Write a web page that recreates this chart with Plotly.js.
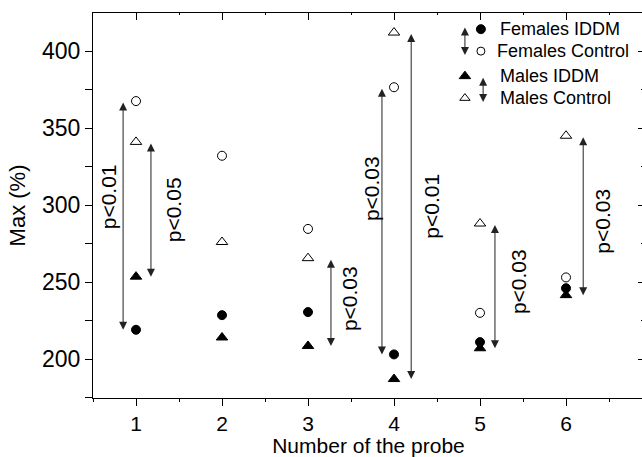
<!DOCTYPE html>
<html>
<head>
<meta charset="utf-8">
<script src="https://cdn.plot.ly/plotly-3.0.1.min.js"></script>
<style>
html, body { margin:0; padding:0; overflow:hidden; background:#fff; }
#chart { width:660px; height:457px; }
</style>
</head>
<body>
<div id="chart"></div>
<script>
// ---- data ----
const probes = [1, 2, 3, 4, 5, 6];
const femalesIDDM    = [219, 228.5, 230.5, 203, 211, 246];
const femalesControl = [367.5, 332, 284.5, 376.5, 230, 253];
const malesIDDM      = [253.5, 214, 208.5, 187, 207, 241.5];
const malesControl   = [341, 276, 265.5, 412, 288, 345];
const xTickLabels = ['1', '2', '3', '4', '5', '6'];
const yTickValues = [200, 250, 300, 350, 400];

// significance comparisons: probe, group, label
const compProbe = [1, 1, 3, 4, 4, 5, 6];
const compGroup = ['F', 'M', 'M', 'F', 'M', 'M', 'M'];
const compLabel = ['p<0.01', 'p<0.05', 'p<0.03', 'p<0.03', 'p<0.01', 'p<0.03', 'p<0.03'];

// ---- layout / style settings (positions, not data) ----
const arrowDx = [-0.15, 0.174, 0.267, -0.14, 0.2, 0.174, 0.2];
const labelDx = [-0.31, 0.43, 0.49, -0.26, 0.44, 0.44, 0.42];
const labelDy = [12, 0, 2, 21, 0, 3, -4];

const FONT = 'Liberation Sans, Arial, Helvetica, sans-serif';
const XR = [0.5, 6.907];
const YR = [174.7, 424.7];

function mk(name, y, symbol, size) {
  return {
    x: probes, y: y, type: 'scatter', mode: 'markers', name: name,
    showlegend: false, hoverinfo: 'skip',
    marker: { symbol: symbol, size: size, color: '#000', opacity: 1,
      line: {color: '#000', width: 1} }
  };
}

const traces = [
  mk('Males Control', malesControl, 'triangle-up-open', 10),
  mk('Females Control', femalesControl, 'circle-open', 9),
  mk('Males IDDM', malesIDDM, 'triangle-up', 10),
  mk('Females IDDM', femalesIDDM, 'circle', 9),
];

// legend markers on a paper-like overlay axis
const legendSymbols = ['circle', 'circle-open', 'triangle-up', 'triangle-up-open'];
const legendNames = ['Females IDDM', 'Females Control', 'Males IDDM', 'Males Control'];
const legMx = [0.704, 0.704, 0.675, 0.675];
const legMy = [0.958, 0.901, 0.836, 0.779];
const legTx = [0.735, 0.729, 0.735, 0.735];
traces.push({
  x: legMx, y: legMy, xaxis: 'x3', yaxis: 'y3', type: 'scatter', mode: 'markers',
  showlegend: false, hoverinfo: 'skip',
  marker: { symbol: legendSymbols, size: [9, 8, 10, 9], color: '#000', opacity: 1,
    line: {color: '#000', width: 1} }
});

const annotations = [];
function arrow(xref, yref, x, y0, y1) {
  return {
    xref: xref, yref: yref, axref: xref, ayref: yref,
    x: x, y: y0, ax: x, ay: y1, text: '', showarrow: true,
    arrowside: 'end+start', arrowhead: 2, arrowsize: 1.6, arrowwidth: 1,
    arrowcolor: '#222', standoff: 0, startstandoff: 0,
    font: {size: 1}
  };
}

for (let i = 0; i < compProbe.length; i++) {
  const k = probes.indexOf(compProbe[i]);
  const top = compGroup[i] === 'F' ? femalesControl[k] : malesControl[k];
  const bot = compGroup[i] === 'F' ? femalesIDDM[k] : malesIDDM[k];
  const ax = compProbe[i] + arrowDx[i];
  annotations.push(arrow('x', 'y', ax, bot, top));
  annotations.push({
    xref: 'x', yref: 'y', x: compProbe[i] + labelDx[i], y: (top + bot) / 2 + labelDy[i],
    text: compLabel[i], showarrow: false, textangle: -90,
    font: {family: FONT, size: 21, color: '#000'}
  });
}

// legend arrows and texts
annotations.push(arrow('x3', 'y3', 0.675, 0.891, 0.966));
annotations.push(arrow('x3', 'y3', 0.708, 0.769, 0.836));
for (let i = 0; i < legendNames.length; i++) {
  annotations.push({
    xref: 'x3', yref: 'y3', x: legTx[i], y: legMy[i], xanchor: 'left',
    text: legendNames[i], showarrow: false,
    font: {family: FONT, size: 18, color: '#000'}
  });
}

const layout = {
  width: 660, height: 457,
  margin: {l: 93, r: 16, t: 13, b: 59},
  paper_bgcolor: '#fff', plot_bgcolor: '#fff',
  font: {family: FONT, color: '#000'},
  showlegend: false,
  xaxis: {
    range: XR, tickvals: probes, ticktext: xTickLabels,
    showgrid: false, zeroline: false, showline: true, linecolor: '#000', linewidth: 1,
    ticks: 'outside', ticklen: 7, tickwidth: 1, tickcolor: '#000',
    tickfont: {family: FONT, size: 21},
    minor: {dtick: 0.5, tick0: 0.5, ticks: 'outside', ticklen: 3, tickcolor: '#000', showgrid: false},
    title: {text: 'Number of the probe', font: {family: FONT, size: 21}, standoff: 0}
  },
  xaxis2: {
    range: XR, overlaying: 'x', side: 'top', tickvals: probes,
    showticklabels: false, showgrid: false, zeroline: false,
    showline: true, linecolor: '#000', linewidth: 1,
    ticks: 'inside', ticklen: 7, tickcolor: '#000',
    minor: {dtick: 0.5, tick0: 0.5, ticks: 'inside', ticklen: 2, tickcolor: '#000', showgrid: false}
  },
  xaxis3: {range: [0, 1], overlaying: 'x', visible: false, fixedrange: true},
  yaxis: {
    range: YR, tickvals: yTickValues,
    showgrid: false, zeroline: false, showline: true, linecolor: '#000', linewidth: 1,
    ticks: 'outside', ticklen: 7, tickwidth: 1, tickcolor: '#000',
    tickfont: {family: FONT, size: 23},
    minor: {dtick: 25, tick0: 0, ticks: 'outside', ticklen: 7, tickcolor: '#000', showgrid: false},
    title: {text: 'Max (%)', font: {family: FONT, size: 22}, standoff: 10}
  },
  yaxis2: {
    range: YR, overlaying: 'y', side: 'right', tickvals: yTickValues,
    showticklabels: false, showgrid: false, zeroline: false,
    showline: true, linecolor: '#000', linewidth: 1,
    ticks: 'inside', ticklen: 6, tickcolor: '#000',
    minor: {dtick: 25, tick0: 0, ticks: 'inside', ticklen: 3, tickcolor: '#000', showgrid: false}
  },
  yaxis3: {range: [0, 1], overlaying: 'y', visible: false, fixedrange: true},
  annotations: annotations
};

// dummy trace to activate overlay axes
traces.push({x: [1], y: [300], xaxis: 'x2', yaxis: 'y2', type: 'scatter', mode: 'markers',
  marker: {opacity: 0}, showlegend: false, hoverinfo: 'skip'});

Plotly.newPlot('chart', traces, layout, {staticPlot: true, displayModeBar: false});
</script>
</body>
</html>
